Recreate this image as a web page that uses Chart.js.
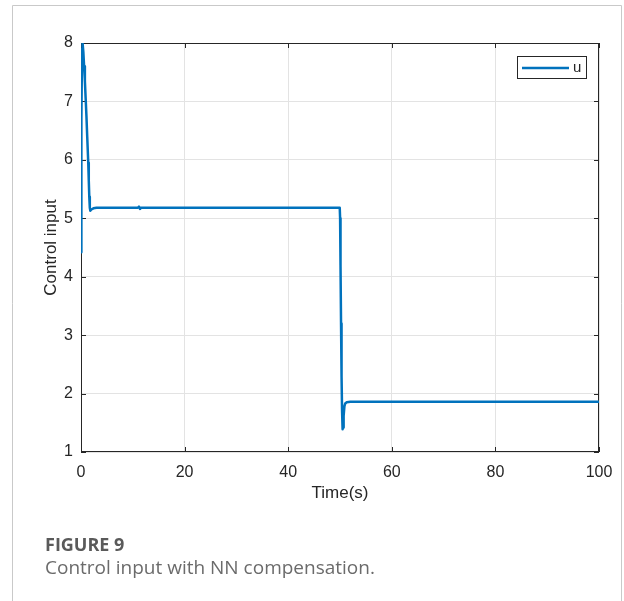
<!DOCTYPE html>
<html>
<head>
<meta charset="utf-8">
<script src="https://cdn.jsdelivr.net/npm/chart.js@4.4.0/dist/chart.umd.min.js"></script>
<style>
  html, body { margin: 0; padding: 0; background: #fff; }
  #wrap { width: 624px; height: 601px; }
</style>
</head>
<body>
<div id="wrap"><canvas id="controlChart" width="624" height="601"></canvas></div>
<script>
// values
const timeSec = [0, 0.05, 0.1, 0.2, 0.3, 0.45, 0.6, 0.75, 0.9, 1.05, 1.2, 1.4, 1.5, 1.6, 1.7, 1.8, 2.0, 2.4, 3.0,
  11.0, 11.2, 11.4, 11.6, 20, 30, 40, 49.95,
  50.02, 50.1, 50.2, 50.3, 50.4, 50.5, 50.6, 50.7, 50.85, 51.0, 51.3, 52, 60, 80, 100];
const controlU = [4.42, 5.6, 6.7, 7.9, 8.0, 7.85, 7.6, 7.35, 7.05, 6.75, 6.4, 5.95, 5.65, 5.37, 5.18, 5.13, 5.15, 5.17, 5.18,
  5.18, 5.2, 5.16, 5.18, 5.18, 5.18, 5.18, 5.18,
  5.0, 4.2, 3.2, 2.3, 1.7, 1.39, 1.42, 1.62, 1.78, 1.83, 1.85, 1.86, 1.86, 1.86, 1.86];
const xTicks = [0, 20, 40, 60, 80, 100];
const yTicks = [1, 2, 3, 4, 5, 6, 7, 8];
const seriesName = 'u';

const axisColor = '#262626';
const lineColor = '#0072BD';
const plotFont = '"Liberation Sans", Arial, sans-serif';

const framePlugin = {
  id: 'framePlugin',
  beforeDatasetsDraw(chart) {
    const { ctx, chartArea: a, scales } = chart;
    ctx.save();
    ctx.strokeStyle = axisColor;
    ctx.lineWidth = 1;
    ctx.strokeRect(a.left + 0.5, a.top + 0.5, a.right - a.left - 1, a.bottom - a.top - 1);
    // inward tick marks on all four sides
    ctx.beginPath();
    xTicks.forEach(v => {
      const x = Math.round(scales.x.getPixelForValue(v)) + 0.5;
      ctx.moveTo(x, a.bottom); ctx.lineTo(x, a.bottom - 5);
      ctx.moveTo(x, a.top); ctx.lineTo(x, a.top + 5);
    });
    yTicks.forEach(v => {
      const y = Math.round(scales.y.getPixelForValue(v)) + 0.5;
      ctx.moveTo(a.left, y); ctx.lineTo(a.left + 5, y);
      ctx.moveTo(a.right, y); ctx.lineTo(a.right - 5, y);
    });
    ctx.stroke();
    ctx.restore();
  },
  afterDraw(chart) {
    const { ctx, chartArea: a } = chart;
    ctx.save();
    // outer panel border
    ctx.strokeStyle = '#c9c9c9';
    ctx.lineWidth = 1;
    ctx.beginPath();
    ctx.moveTo(12.5, 601); ctx.lineTo(12.5, 5.5); ctx.lineTo(621.5, 5.5); ctx.lineTo(621.5, 601);
    ctx.stroke();

    // axis titles
    ctx.fillStyle = axisColor;
    ctx.font = '17px ' + plotFont;
    ctx.textAlign = 'center';
    ctx.textBaseline = 'middle';
    ctx.fillText('Time(s)', (a.left + a.right) / 2, 493);
    ctx.save();
    ctx.translate(51, (a.top + a.bottom) / 2);
    ctx.rotate(-Math.PI / 2);
    ctx.fillText('Control input', 0, 0);
    ctx.restore();

    // legend box
    const ds = chart.data.datasets[0];
    ctx.fillStyle = '#fff';
    ctx.fillRect(517, 56, 69, 22);
    ctx.strokeStyle = axisColor;
    ctx.strokeRect(517.5, 56.5, 69, 22);
    ctx.strokeStyle = ds.borderColor;
    ctx.lineWidth = 2.5;
    ctx.beginPath();
    ctx.moveTo(522, 68); ctx.lineTo(569, 68);
    ctx.stroke();
    ctx.fillStyle = axisColor;
    ctx.font = '15px ' + plotFont;
    ctx.textAlign = 'left';
    ctx.fillText(ds.label, 573, 68);

    // caption
    ctx.fillStyle = '#5a5a5a';
    ctx.textBaseline = 'alphabetic';
    ctx.font = 'bold 18px "Open Sans", sans-serif';
    ctx.fillText('FIGURE 9', 45, 551);
    ctx.fillStyle = '#6b6b6b';
    ctx.font = '19px "Open Sans", sans-serif';
    ctx.fillText('Control input with NN compensation.', 45, 574);
    ctx.restore();
  }
};

const chartCtx = document.getElementById('controlChart').getContext('2d');
new Chart(chartCtx, {
  type: 'line',
  data: {
    datasets: [{
      label: seriesName,
      data: timeSec.map((t, i) => ({ x: t, y: controlU[i] })),
      borderColor: lineColor,
      borderWidth: 2.5,
      borderJoinStyle: 'round',
      borderCapStyle: 'round',
      pointRadius: 0,
      tension: 0,
      fill: false
    }]
  },
  options: {
    responsive: false,
    animation: false,
    devicePixelRatio: 1,
    layout: { padding: { left: 0, top: 43, right: 25, bottom: 0 } },
    plugins: { legend: { display: false }, tooltip: { enabled: false } },
    scales: {
      x: {
        type: 'linear',
        min: 0, max: 100,
        afterFit: s => { s.height = 149; },
        afterBuildTicks: s => { s.ticks = xTicks.map(v => ({ value: v })); },
        ticks: { color: axisColor, padding: 11, maxRotation: 0, font: { family: plotFont, size: 16 } },
        grid: { color: '#e3e3e3', drawTicks: false },
        border: { display: false }
      },
      y: {
        type: 'linear',
        min: 1, max: 8,
        afterFit: s => { s.width = 81; },
        afterBuildTicks: s => { s.ticks = yTicks.map(v => ({ value: v })); },
        ticks: { color: axisColor, padding: 8, font: { family: plotFont, size: 16 } },
        grid: { color: '#e3e3e3', drawTicks: false },
        border: { display: false }
      }
    }
  },
  plugins: [framePlugin]
});
</script>
</body>
</html>
